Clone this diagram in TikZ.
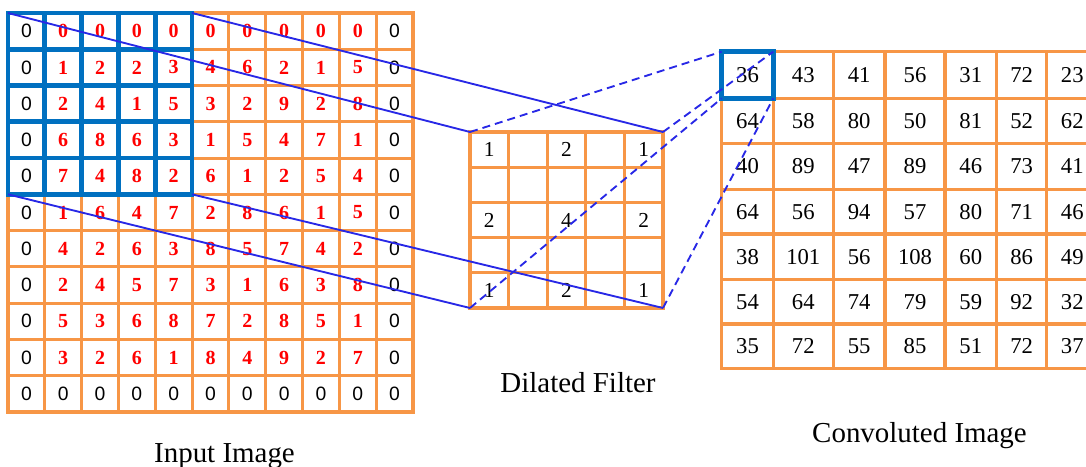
\documentclass[tikz,border=0pt]{standalone}
\usepackage{fontspec}
\setmainfont{Liberation Serif}
\newfontfamily\zerofont{Liberation Sans}
\definecolor{gridorange}{RGB}{247,150,70}
\definecolor{hiblue}{RGB}{0,112,192}
\definecolor{linkblue}{RGB}{40,40,230}
\begin{document}
\begin{tikzpicture}[x=0.75pt,y=-0.75pt,
  gridline/.style={draw=gridorange,line width=2.3pt,line cap=rect},
  hiline/.style={draw=hiblue,line width=3.6pt,line cap=rect},
  link/.style={draw=linkblue,line width=1.4pt},
  dlink/.style={link,dash pattern=on 6pt off 3.8pt},
  zeronum/.style={inner sep=0pt,font=\zerofont\fontsize{14.5}{16}\selectfont,text=black},
  rednum/.style={inner sep=0pt,font=\fontsize{15}{17}\selectfont\bfseries,text=red},
  filtnum/.style={inner sep=0pt,font=\fontsize{16}{18}\selectfont,text=black},
  convnum/.style={inner sep=0pt,font=\fontsize{17}{19}\selectfont,text=black},
  caption/.style={inner sep=0pt,anchor=base,font=\fontsize{21.7}{24}\selectfont,text=black}]
\useasboundingbox (0,0) rectangle (1086,467);
\clip (0,0) rectangle (1086,467);

% ---------- Input image grid ----------
\foreach \i in {0,...,11} {
  \draw[gridline] ({8+\i*36.818},13) -- ({8+\i*36.818},412);
  \draw[gridline] (8,{13+\i*36.27}) -- (413,{13+\i*36.27});
}
\foreach \row [count=\r from 0] in {
 {0,0,0,0,0,0,0,0,0,0,0},
 {0,1,2,2,3,4,6,2,1,5,0},
 {0,2,4,1,5,3,2,9,2,8,0},
 {0,6,8,6,3,1,5,4,7,1,0},
 {0,7,4,8,2,6,1,2,5,4,0},
 {0,1,6,4,7,2,8,6,1,5,0},
 {0,4,2,6,3,8,5,7,4,2,0},
 {0,2,4,5,7,3,1,6,3,8,0},
 {0,5,3,6,8,7,2,8,5,1,0},
 {0,3,2,6,1,8,4,9,2,7,0},
 {0,0,0,0,0,0,0,0,0,0,0}} {
  \foreach \v [count=\c from 0] in \row {
    \pgfmathtruncatemacro\edge{(\c==0)||(\c==10)||(\r==10)}
    \ifnum\edge=1
      \node[zeronum] (in-\r-\c) at ({8+(\c+0.5)*36.818},{13+(\r+0.5)*36.27}) {\v};
    \else
      \node[rednum] (in-\r-\c) at ({8+(\c+0.5)*36.818},{13+(\r+0.5)*36.27}) {\v};
    \fi
  }
}
% highlighted 5x5 window
\foreach \i in {0,...,5} {
  \draw[hiline] ({8+\i*36.818},13) -- ({8+\i*36.818},{13+5*36.27});
  \draw[hiline] (8,{13+\i*36.27}) -- ({8+5*36.818},{13+\i*36.27});
}
\coordinate (inTL) at (8,13);
\coordinate (inTR) at ({8+5*36.818},13);
\coordinate (inBL) at (8,{13+5*36.27});
\coordinate (inBR) at ({8+5*36.818},{13+5*36.27});

% ---------- Dilated filter ----------
\foreach \i in {0,...,5} {
  \draw[gridline] ({470+\i*38.6},132) -- ({470+\i*38.6},308);
  \draw[gridline] (470,{132+\i*35.2}) -- (663,{132+\i*35.2});
}
\foreach \r/\c/\v in {0/0/1,0/2/2,0/4/1,2/0/2,2/2/4,2/4/2,4/0/1,4/2/2,4/4/1} {
  \node[filtnum] (f-\r-\c) at ({470+(\c+0.5)*38.6},{132+(\r+0.5)*35.2}) {\v};
}
\coordinate (fTL) at (470,132);
\coordinate (fTR) at (663,132);
\coordinate (fBL) at (470,308);
\coordinate (fBR) at (663,308);

% ---------- Convoluted image ----------
\foreach \x in {721.7,773.3,833.3,885,945,996.7,1046.7,1098} {
  \draw[gridline] (\x,51.7) -- (\x,368.3);
}
\foreach \y in {51.7,98.3,143.3,189.3,234,279.3,324,368.3} {
  \draw[gridline] (721.7,\y) -- (1098,\y);
}
\foreach \row/\yy [count=\r] in {
 {36,43,41,56,31,72,23}/75,
 {64,58,80,50,81,52,62}/120.8,
 {40,89,47,89,46,73,41}/166.3,
 {64,56,94,57,80,71,46}/211.7,
 {38,101,56,108,60,86,49}/256.7,
 {54,64,74,79,59,92,32}/301.7,
 {35,72,55,85,51,72,37}/346.2} {
  \foreach \v [count=\c] in \row {
    \pgfmathsetmacro\xx{{747.5,803.3,859.2,915,970.8,1021.7,1072.3}[\c-1]}
    \node[convnum] (c-\r-\c) at (\xx,\yy) {\v};
  }
}
\draw[hiline] (721.7,51.7) rectangle (773.3,98.3);
\coordinate (cTL) at (721.7,51.7);
\coordinate (cTR) at (773.3,51.7);
\coordinate (cBL) at (721.7,98.3);
\coordinate (cBR) at (773.3,98.3);

% ---------- Connectors ----------
\draw[link] (inTL) -- (fTL);
\draw[link] (inTR) -- (fTR);
\draw[link] (inBL) -- (fBL);
\draw[link] (inBR) -- (fBR);
\draw[dlink] (fTL) -- (cTL);
\draw[dlink] (fTR) -- (cTR);
\draw[dlink] (fBL) -- (cBL);
\draw[dlink] (fBR) -- (cBR);

% ---------- Captions ----------
\node[caption] (capIn) at (224.5,462) {Input Image};
\node[caption] (capF) at (578,392) {Dilated Filter};
\node[caption] (capC) at (919.5,442) {Convoluted Image};
\end{tikzpicture}
\end{document}
